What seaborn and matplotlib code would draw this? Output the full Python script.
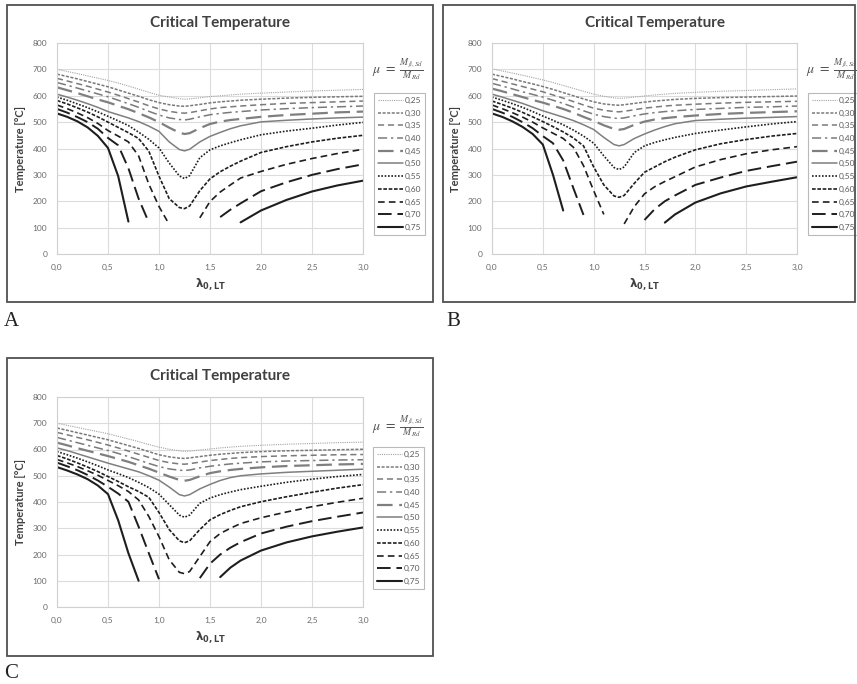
import numpy as np
import pandas as pd
import seaborn as sns
import matplotlib
matplotlib.use('Agg')
import matplotlib.pyplot as plt
from matplotlib.lines import Line2D
from matplotlib.patches import Rectangle
from matplotlib.ticker import FuncFormatter, MultipleLocator

nan = np.nan

# slenderness grid
lam = [0.0, 0.1, 0.2, 0.3, 0.4, 0.5, 0.6, 0.7, 0.8, 0.9, 1.0, 1.1, 1.2, 1.25, 1.3,
       1.4, 1.5, 1.6, 1.7, 1.8, 2.0, 2.25, 2.5, 2.75, 3.0]
mu_labels = ['0,25', '0,30', '0,35', '0,40', '0,45', '0,50', '0,55', '0,60', '0,65', '0,70', '0,75']

# critical temperature, one list per mu (0,25 ... 0,75)
temp_A = [
    [700, 692, 684, 675, 667, 658, 648, 637, 625, 613, 602, 595, 589, 587, 588, 592, 597, 600, 603, 606, 610, 614, 618, 621, 624],
    [682, 673, 664, 654, 644, 634, 622, 610, 598, 585, 574, 566, 561, 560, 562, 567, 573, 577, 580, 583, 587, 591, 594, 596, 598],
    [666, 656, 646, 636, 625, 614, 602, 589, 576, 562, 550, 541, 535, 534, 536, 543, 550, 555, 558, 561, 566, 571, 574, 577, 580],
    [650, 640, 629, 618, 607, 596, 583, 570, 556, 541, 527, 516, 510, 508, 511, 520, 528, 533, 537, 540, 546, 551, 555, 558, 561],
    [632, 621, 610, 598, 586, 575, 562, 549, 534, 518, 500, 479, 460, 455, 458, 477, 493, 502, 508, 512, 520, 527, 532, 537, 540],
    [606, 595, 583, 570, 556, 540, 528, 516, 502, 485, 465, 425, 396, 391, 397, 425, 446, 461, 475, 486, 501, 507, 512, 516, 519],
    [595, 583, 569, 555, 539, 522, 505, 487, 462, 435, 402, 345, 296, 286, 297, 365, 395, 410, 422, 433, 452, 466, 477, 489, 499],
    [582, 569, 554, 538, 520, 500, 480, 460, 438, 390, 295, 210, 176, 172, 182, 240, 285, 312, 333, 352, 385, 407, 425, 439, 450],
    [565, 551, 535, 517, 495, 468, 447, 425, 372, 265, 180, 112, nan, nan, nan, 137, 199, 235, 262, 288, 313, 340, 362, 381, 397],
    [550, 536, 519, 500, 475, 440, 412, 325, 210, 120, nan, nan, nan, nan, nan, nan, nan, 140, 168, 192, 238, 272, 300, 322, 340],
    [533, 520, 503, 480, 448, 402, 295, 123, nan, nan, nan, nan, nan, nan, nan, nan, nan, nan, nan, 120, 165, 205, 237, 260, 278],
]
temp_B = [
    [702, 694, 686, 678, 669, 660, 650, 639, 628, 617, 606, 598, 592, 590, 591, 595, 599, 603, 606, 609, 613, 617, 620, 623, 626],
    [682, 673, 664, 654, 645, 635, 624, 612, 600, 588, 577, 569, 565, 564, 566, 571, 576, 580, 583, 586, 590, 593, 595, 597, 599],
    [665, 655, 645, 635, 625, 615, 603, 591, 578, 565, 553, 545, 540, 539, 541, 547, 553, 557, 561, 564, 568, 572, 575, 577, 579],
    [647, 637, 626, 615, 605, 595, 583, 571, 557, 543, 530, 521, 515, 514, 516, 524, 531, 536, 540, 543, 548, 552, 556, 558, 561],
    [627, 617, 606, 595, 584, 574, 562, 550, 536, 520, 505, 488, 474, 471, 474, 490, 502, 510, 515, 519, 525, 531, 535, 538, 541],
    [606, 595, 583, 571, 557, 543, 531, 519, 506, 490, 472, 442, 415, 410, 415, 438, 455, 470, 483, 494, 506, 511, 515, 518, 521],
    [595, 583, 570, 556, 540, 523, 507, 490, 470, 447, 420, 372, 328, 320, 330, 385, 410, 423, 433, 442, 457, 470, 482, 493, 502],
    [580, 567, 553, 537, 520, 502, 483, 463, 440, 410, 330, 262, 220, 215, 222, 268, 310, 330, 350, 367, 395, 418, 434, 447, 457],
    [565, 551, 536, 519, 500, 478, 458, 438, 405, 335, 240, 150, nan, nan, 114, 180, 228, 255, 275, 293, 330, 358, 380, 395, 407],
    [550, 536, 520, 500, 477, 447, 420, 355, 250, 148, nan, nan, nan, nan, nan, nan, 129, 170, 200, 222, 262, 290, 315, 333, 350],
    [533, 520, 503, 482, 455, 415, 300, 165, nan, nan, nan, nan, nan, nan, nan, nan, nan, nan, 119, 150, 195, 230, 256, 274, 291],
]
temp_C = [
    [700, 692, 684, 676, 668, 660, 650, 640, 630, 619, 609, 601, 595, 593, 594, 598, 602, 606, 609, 612, 616, 620, 623, 626, 628],
    [682, 673, 664, 655, 646, 637, 626, 615, 604, 592, 580, 572, 567, 566, 568, 573, 578, 582, 585, 588, 592, 595, 597, 599, 601],
    [665, 656, 646, 637, 627, 617, 606, 594, 582, 570, 558, 550, 545, 544, 546, 552, 558, 562, 566, 569, 573, 576, 578, 580, 581],
    [646, 636, 626, 616, 606, 596, 585, 573, 560, 547, 535, 526, 521, 520, 522, 530, 536, 541, 545, 548, 553, 556, 558, 560, 561],
    [626, 616, 605, 595, 585, 575, 564, 553, 540, 527, 512, 497, 484, 481, 484, 498, 510, 517, 522, 526, 532, 537, 540, 543, 545],
    [606, 596, 584, 572, 560, 548, 537, 526, 515, 500, 483, 457, 428, 423, 428, 450, 467, 482, 493, 500, 507, 513, 517, 521, 525],
    [592, 580, 567, 553, 538, 522, 508, 493, 475, 455, 430, 390, 350, 342, 350, 395, 415, 428, 438, 447, 460, 475, 487, 497, 505],
    [577, 564, 549, 533, 516, 497, 478, 458, 440, 418, 360, 295, 252, 245, 252, 295, 332, 352, 368, 382, 401, 420, 437, 453, 466],
    [562, 549, 535, 519, 502, 482, 462, 440, 408, 345, 268, 180, 132, 127, 135, 192, 249, 280, 300, 318, 340, 362, 382, 399, 414],
    [550, 536, 521, 503, 482, 458, 432, 401, 306, 205, 106, nan, nan, nan, nan, 110, 165, 200, 226, 247, 280, 306, 327, 344, 360],
    [533, 520, 505, 487, 463, 430, 330, 205, 100, nan, nan, nan, nan, nan, nan, nan, nan, 114, 150, 177, 215, 246, 269, 287, 303],
]

# line styles per mu
line_colors = ['#a3a3a3', '#7a7a7a', '#7a7a7a', '#7a7a7a', '#7f7f7f', '#7f7f7f',
               '#1e1e1e', '#1e1e1e', '#1e1e1e', '#1e1e1e', '#1e1e1e']
line_widths = [0.8, 1.1, 1.1, 1.1, 1.6, 1.1, 1.2, 1.2, 1.2, 1.4, 1.5]
line_dashes = [(1, 1), (2, 1), (4, 2.5), (6, 2.5, 1.5, 2.5), (7, 3), '',
               (1, 1), (2.2, 1), (4, 2.5), (7, 3), '']


def to_long(temps):
    '''reshape one panel into long form, splitting each curve at gaps'''
    rows = []
    seg = 0
    for label, vals in zip(mu_labels, temps):
        prev_nan = True
        for x, t in zip(lam, vals):
            if np.isnan(t):
                prev_nan = True
                continue
            if prev_nan:
                seg += 1
                prev_nan = False
            rows.append({'lam': x, 'temp': t, 'mu': label, 'seg': seg})
    return pd.DataFrame(rows)


def px(x, y):
    return x / 857, 1 - y / 684


sns.set_style('whitegrid')
plt.rcParams['font.family'] = ['Lato', 'DejaVu Sans']

fig = plt.figure(figsize=(8.57, 6.84), dpi=100)

# panel geometry in pixels: plot box (l, t, r, b), frame (l, t, r, b), title, mu text, legend corner, letter
panels = [
    ('A', temp_A, (57, 43, 363, 254), (7, 5, 433, 302), (220, 23), (398, 70), (374, 93), (4, 326)),
    ('B', temp_B, (492, 43, 797, 254), (443, 5, 855, 302), (655, 23), (832, 70), (808, 93), (446, 326)),
    ('C', temp_C, (57, 397, 363, 607), (7, 358, 433, 656), (220, 376), (398, 427), (373, 447), (4, 678)),
]

palette = dict(zip(mu_labels, line_colors))
dashes = dict(zip(mu_labels, line_dashes))
sizes = dict(zip(mu_labels, line_widths))

for name, temps, box, frame, tpos, mpos, lpos, letter in panels:
    l, t, r, b = box
    x0, y0 = px(l, b)
    ax = fig.add_axes([x0, y0, (r - l) / 857, (b - t) / 684])
    df = to_long(temps)
    sns.lineplot(data=df, x='lam', y='temp', hue='mu', style='mu', size='mu',
                 units='seg', estimator=None, sort=False, palette=palette,
                 dashes=dashes, sizes=sizes, legend=False, ax=ax)
    ax.set_xlim(0, 3)
    ax.set_ylim(0, 800)
    ax.xaxis.set_major_locator(MultipleLocator(0.5))
    ax.yaxis.set_major_locator(MultipleLocator(100))
    ax.xaxis.set_major_formatter(FuncFormatter(lambda v, p: f'{v:.1f}'.replace('.', ',')))
    ax.yaxis.set_major_formatter(FuncFormatter(lambda v, p: f'{v:.0f}'))
    ax.tick_params(labelsize=6, labelcolor='#6a6a6a', length=0, pad=7)
    ax.grid(color='#dcdcdc', linewidth=0.8)
    for s in ax.spines.values():
        s.set_color('#d0d0d0')
        s.set_linewidth(0.8)
    ax.set_xlabel(r'$\mathbf{\lambda_{0,LT}}$', fontsize=8.5, color='#404040', labelpad=4)
    ax.set_ylabel('Temperature [°C]', fontsize=8, fontweight='bold', color='#404040', labelpad=5)

    # chart border
    fl, ft, fr, fb = frame
    fx0, fy0 = px(fl, fb)
    fig.patches.append(Rectangle((fx0, fy0), (fr - fl) / 857, (fb - ft) / 684, fill=False,
                                 edgecolor='#505050', linewidth=1.3, transform=fig.transFigure))

    tx, ty = px(*tpos)
    fig.text(tx, ty, 'Critical Temperature', ha='center', va='center', fontsize=11,
             fontweight='bold', color='#404040')
    mx, my = px(*mpos)
    fig.text(mx, my, r'$\mu\ =\ \frac{M_{fi,Sd}}{M_{Rd}}$', ha='center', va='center',
             fontsize=10, color='#555555', math_fontfamily='stix')

    handles = [Line2D([], [], color=c, linewidth=w, dashes=(d if d != '' else (None, None)))
               for c, w, d in zip(line_colors, line_widths, line_dashes)]
    lx, ly = px(*lpos)
    leg = ax.legend(handles, mu_labels, loc='upper left', bbox_to_anchor=(lx, ly),
                    bbox_transform=fig.transFigure, fontsize=6, frameon=True,
                    fancybox=False, edgecolor='#a8a8a8', handlelength=3.0,
                    handletextpad=0.2, labelspacing=0.68, borderpad=0.45,
                    borderaxespad=0)
    leg.get_frame().set_linewidth(0.8)
    for txt in leg.get_texts():
        txt.set_color('#5a5a5a')

    ax_, ay_ = px(*letter)
    fig.text(ax_, ay_, name, ha='left', va='baseline', fontsize=15,
             family=['Liberation Serif'], color='#222222')

fig.savefig('out.png', dpi=100)
